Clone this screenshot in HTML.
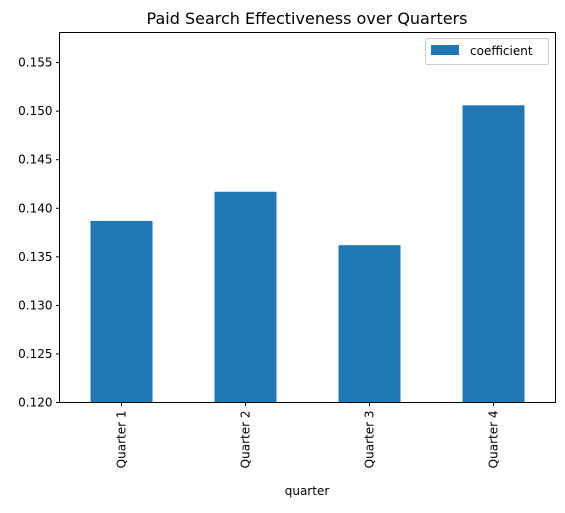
<!DOCTYPE html>
<html><head><meta charset="utf-8"><style>
body{margin:0;background:#fff;}
svg text{font-family:"DejaVu Sans","Liberation Sans",sans-serif;fill:#000;}
</style></head><body>
<svg id="chart" width="565" height="508">
<text x="307" y="24" font-size="16" text-anchor="middle">Paid Search Effectiveness over Quarters</text>
<g id="bars"></g>
<g id="yticks"></g>
<g id="xticks"></g>
<rect x="59.5" y="32.5" width="496" height="370" fill="none" stroke="#000" stroke-width="1"/>
<text x="307" y="495" font-size="12" text-anchor="middle">quarter</text>
<g>
<rect x="425.5" y="38.5" width="123" height="26" rx="2" fill="#fff" stroke="#ccc"/>
<rect x="431" y="45" width="28" height="10" fill="#1f77b4"/>
<text x="470" y="55" font-size="12">coefficient</text>
</g>
</svg>
<script>
const categories=["Quarter 1","Quarter 2","Quarter 3","Quarter 4"];
const values=[0.1387,0.1417,0.1362,0.1506];
const yTickLabels=["0.120","0.125","0.130","0.135","0.140","0.145","0.150","0.155"];
const yMin=0.120,yMax=0.1581;
const L=59.5,R=555.5,T=32.5,B=402.5;
const ns="http://www.w3.org/2000/svg";
function y(v){return B-(v-yMin)/(yMax-yMin)*(B-T);}
function xc(i){return L+(i+0.5)*(R-L)/categories.length;}
const bw=(R-L)/categories.length*0.5;
const bars=document.getElementById('bars'),yt=document.getElementById('yticks'),xt=document.getElementById('xticks');
values.forEach((v,i)=>{
 const r=document.createElementNS(ns,'rect');
 r.setAttribute('x',xc(i)-bw/2);r.setAttribute('y',y(v));
 r.setAttribute('width',bw);r.setAttribute('height',B-y(v));
 r.setAttribute('fill','#1f77b4');
 
 
 bars.appendChild(r);
});
yTickLabels.forEach(s=>{
 const v=parseFloat(s),yy=y(v);
 const l=document.createElementNS(ns,'line');
 l.setAttribute('x1',L-3.5);l.setAttribute('x2',L);l.setAttribute('y1',yy);l.setAttribute('y2',yy);l.setAttribute('stroke','#000');
 
 
 yt.appendChild(l);
 const t=document.createElementNS(ns,'text');
 t.setAttribute('x',L-7);t.setAttribute('y',yy+4);t.setAttribute('font-size','12');t.setAttribute('text-anchor','end');
 t.textContent=s;
 
 
 yt.appendChild(t);
});
categories.forEach((c,i)=>{
 const x=xc(i);
 const l=document.createElementNS(ns,'line');
 l.setAttribute('x1',x);l.setAttribute('x2',x);l.setAttribute('y1',B);l.setAttribute('y2',B+3.5);l.setAttribute('stroke','#000');
 
 
 xt.appendChild(l);
 const t=document.createElementNS(ns,'text');
 t.setAttribute('transform','translate('+(x+4)+','+(B+8)+') rotate(-90)');
 t.setAttribute('font-size','12');t.setAttribute('text-anchor','end');
 t.textContent=c;
 
 
 xt.appendChild(t);
});
</script>
</body></html>
